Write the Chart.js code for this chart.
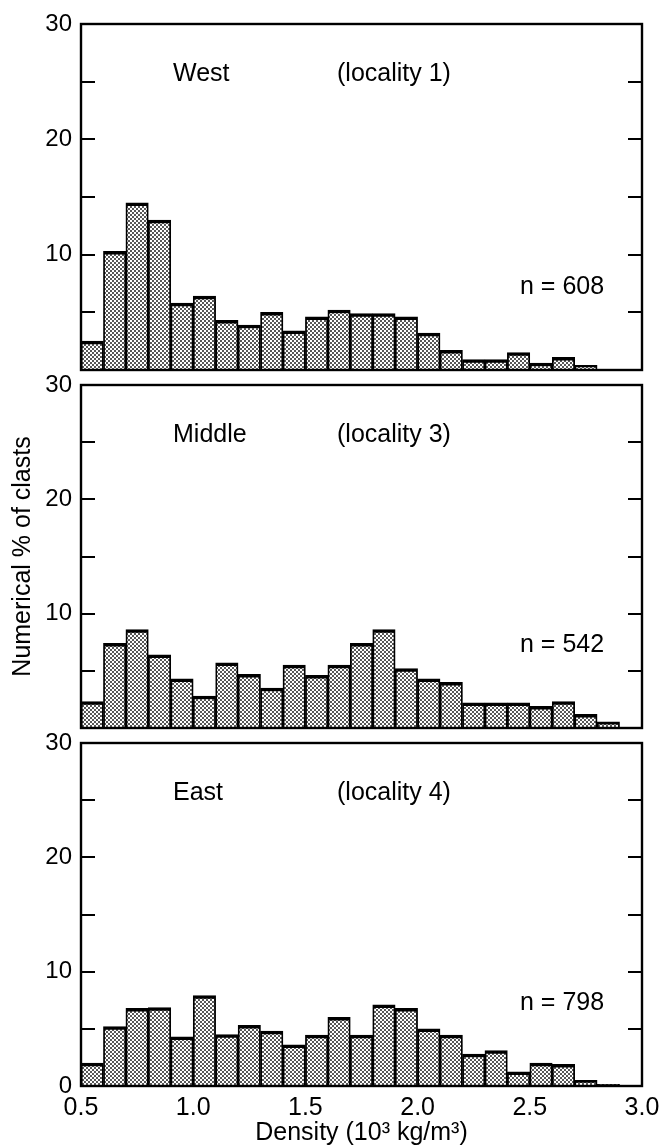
<!DOCTYPE html>
<html><head><meta charset="utf-8">
<script src="https://cdn.jsdelivr.net/npm/chart.js@4.4.1/dist/chart.umd.min.js"></script>
<style>
html,body{margin:0;padding:0;background:#fff;}
body{width:659px;height:1146px;position:relative;overflow:hidden;}
canvas{position:absolute;left:0;}
</style></head><body>
<canvas id="c1" width="659" height="400" style="top:0px"></canvas>
<canvas id="c2" width="659" height="403" style="top:355px"></canvas>
<canvas id="c3" width="659" height="433" style="top:713px"></canvas>
<script>
// ---- data ----
const binStart = [0.5,0.6,0.7,0.8,0.9,1.0,1.1,1.2,1.3,1.4,1.5,1.6,1.7,1.8,1.9,2.0,2.1,2.2,2.3,2.4,2.5,2.6,2.7,2.8,2.9];
const binWidth = 0.1;
const westValues   = [2.5,10.3,14.5,13.0,5.8,6.4,4.3,3.9,5.0,3.4,4.6,5.2,4.9,4.9,4.6,3.2,1.7,0.9,0.9,1.5,0.6,1.1,0.4,0,0];
const middleValues = [2.3,7.4,8.6,6.4,4.3,2.8,5.7,4.7,3.5,5.5,4.6,5.5,7.4,8.6,5.2,4.3,4.0,2.2,2.2,2.2,1.9,2.3,1.2,0.55,0];
const eastValues   = [2.0,5.2,6.8,6.85,4.3,7.9,4.5,5.3,4.8,3.6,4.45,6.0,4.45,7.1,6.8,5.0,4.45,2.8,3.1,1.25,2.0,1.9,0.5,0.15,0];
const siteNames  = ['West','Middle','East'];
const localities = ['(locality 1)','(locality 3)','(locality 4)'];
const counts     = ['n = 608','n = 542','n = 798'];
const yTickLabels = ['10','20','30'];
const xTickLabels = ['0.5','1.0','1.5','2.0','2.5','3.0'];
const yTitle = 'Numerical % of clasts';
const xTitle = 'Density (10\u00B3 kg/m\u00B3)';

const FONT = '"Liberation Sans", Arial, Helvetica, sans-serif';

// stipple pattern
function makePattern(){
  const t = document.createElement('canvas');
  t.width = 4; t.height = 4;
  const c = t.getContext('2d');
  c.fillStyle = '#fff'; c.fillRect(0,0,4,4);
  c.fillStyle = '#111';
  c.beginPath(); c.arc(1,1,0.95,0,Math.PI*2); c.fill();
  c.beginPath(); c.arc(3,3,0.95,0,Math.PI*2); c.fill();
  return document.getElementById('c1').getContext('2d').createPattern(t,'repeat');
}
const pattern = makePattern();

const framePlugin = {
  id: 'frame',
  afterDatasetsDraw(chart, args, opts){
    const {ctx, chartArea:a, scales:{y}} = chart;
    ctx.save();
    ctx.strokeStyle = '#000';
    ctx.lineWidth = 2;
    ctx.beginPath();
    y.ticks.forEach(t => {
      if (t.value <= y.min || t.value >= y.max) return;
      const py = Math.round(y.getPixelForValue(t.value));
      ctx.moveTo(a.left, py); ctx.lineTo(a.left + 14, py);
      ctx.moveTo(a.right, py); ctx.lineTo(a.right - 14, py);
    });
    ctx.stroke();
    ctx.lineWidth = 2.4;
    ctx.strokeRect(a.left, a.top, a.right - a.left, a.bottom - a.top);
    ctx.fillStyle = '#000';
    ctx.font = '25px ' + FONT;
    ctx.textBaseline = 'alphabetic';
    ctx.textAlign = 'left';
    ctx.fillText(opts.site, a.left + 92, a.top + 57);
    ctx.fillText(opts.locality, a.left + 256, a.top + 57);
    ctx.fillText(opts.count, a.left + 439, a.bottom - 76);
    ctx.restore();
  }
};

function makeChart(id, values, idx, showZero, showX, showYTitle, pad){
  const data = binStart.map((s,i) => ({x: s + binWidth/2, y: values[i]}));
  return new Chart(document.getElementById(id), {
    type: 'bar',
    data: { datasets: [{
      data,
      backgroundColor: pattern,
      borderColor: '#000',
      borderWidth: {top: 3.5, left: 1.8, right: 1.8, bottom: 0},
      borderSkipped: 'start',
      barPercentage: 1,
      categoryPercentage: 1,
      grouped: false
    }]},
    plugins: [framePlugin],
    options: {
      responsive: false,
      animation: false,
      events: [],
      layout: { padding: pad },
      plugins: {
        legend: {display:false},
        tooltip: {enabled:false},
        frame: { site: siteNames[idx], locality: localities[idx], count: counts[idx] }
      },
      scales: {
        x: {
          type: 'linear',
          min: 0.5, max: 3.0,
          offset: false,
          display: showX,
          grid: {display:false, drawTicks:false, offset:false},
          border: {display:false},
          ticks: {
            stepSize: 0.5,
            maxRotation: 0,
            autoSkip: false,
            padding: 7,
            color: '#000',
            font: {size: 25, family: FONT},
            callback: (v, i) => xTickLabels[i] !== undefined ? xTickLabels[i] : ''
          },
          title: {
            display: showX,
            text: xTitle,
            color: '#000',
            font: {size: 25, family: FONT, lineHeight: 1},
            padding: {top: 0, bottom: 0}
          },
          afterFit: s => { if (showX) { s.height = 60; s.paddingLeft = 0; s.paddingRight = 0; } }
        },
        y: {
          min: 0, max: 30,
          grid: {display:false, drawTicks:false},
          border: {display:false},
          ticks: {
            stepSize: 5,
            padding: 9,
            color: '#000',
            font: {size: 24, family: FONT},
            callback: v => {
              if (v === 0) return showZero ? '0' : '';
              return yTickLabels.includes(String(v)) ? String(v) : '';
            }
          },
          title: {
            display: showYTitle,
            text: yTitle,
            color: '#000',
            font: {size: 25, family: FONT},
            padding: {top: 8, bottom: 0}
          },
          afterFit: s => { s.width = 81; }
        }
      }
    }
  });
}

makeChart('c1', westValues, 0, false, false, false, {top:24, bottom:30, left:0, right:17});
makeChart('c2', middleValues, 1, false, false, true, {top:30, bottom:30, left:0, right:17});
makeChart('c3', eastValues, 2, true, true, false, {top:30, bottom:0, left:0, right:17});
</script>
</body></html>
